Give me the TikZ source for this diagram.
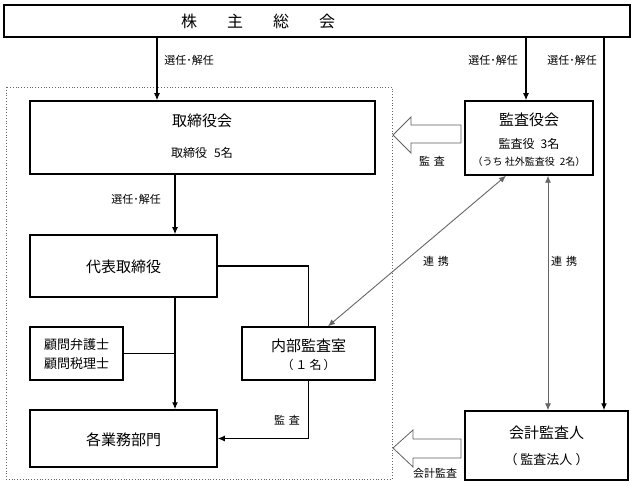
\documentclass[tikz,border=0pt]{standalone}
\usepackage{fontspec}
\newfontfamily\jp{Noto Sans CJK JP}
\usetikzlibrary{arrows.meta}
\begin{document}
\begin{tikzpicture}[x=1pt,y=-1pt,
  box/.style={draw,line width=1.5pt,inner sep=0pt,fill=white},
  big/.style={font=\jp\fontsize{15}{18}\selectfont,inner sep=0pt},
  mid/.style={font=\jp\fontsize{12}{14}\selectfont,inner sep=0pt},
  sml/.style={font=\jp\fontsize{11}{13}\selectfont,inner sep=0pt},
  tiny/.style={font=\jp\fontsize{10}{12}\selectfont,inner sep=0pt},
  arr/.style={line width=1.2pt,-{Latex[length=7pt,width=6pt]}},
  ln/.style={line width=1.2pt},
  link/.style={draw=gray!80!black,line width=0.9pt,{Latex[length=7pt,width=6pt]}-{Latex[length=7pt,width=6pt]}},
  hollow/.style={draw=gray!75!black,line width=0.8pt,fill=white}]
\useasboundingbox (0,0) rectangle (634,486);
\fill[white] (0,0) rectangle (634,486);

% dotted company boundary
\draw[dotted,gray!80!black,line width=0.8pt] (6,87) rectangle (392,479);

% shareholders meeting
\node[draw,line width=2.4pt,minimum width=626pt,minimum height=32pt,inner sep=0pt] (gm) at (317,21) {};
\node[font=\jp\fontsize{16}{18}\selectfont,inner sep=0pt] (gmt) at (258,21) {株\hspace{30pt}主\hspace{30pt}総\hspace{30pt}会};

% boxes
\node[box,minimum width=345pt,minimum height=73pt] (bod) at (202.5,137.5) {};
\node[big] (bodt) at (202,121) {取締役会};
\node[mid] (bods) at (202,153) {取締役\hspace{7pt}5名};

\node[box,minimum width=187pt,minimum height=62pt] (rep) at (123.5,266) {};
\node[big] (rept) at (123.5,267) {代表取締役};

\node[box,minimum width=93pt,minimum height=53pt] (adv) at (76.5,353.5) {};
\node[font=\jp\fontsize{13}{15}\selectfont,inner sep=0pt] (advt1) at (76.5,345) {顧問弁護士};
\node[font=\jp\fontsize{13}{15}\selectfont,inner sep=0pt] (advt2) at (76.5,364) {顧問税理士};

\node[box,minimum width=133pt,minimum height=53pt] (ia) at (308.5,353.5) {};
\node[big] (iat) at (308.5,346) {内部監査室};
\node[mid] (ias) at (308.5,365) {（\hspace{2pt}１\hspace{2pt}名\hspace{2pt}）};

\node[box,minimum width=187pt,minimum height=57pt] (dep) at (123.5,438.5) {};
\node[big] (dept) at (123.5,440) {各業務部門};

\node[box,minimum width=128pt,minimum height=74pt] (kansa) at (529,138) {};
\node[big] (kansat) at (529,120) {監査役会};
\node[mid] (kansas) at (529,144) {監査役\hspace{6pt}3名};
\node[tiny] (kansas2) at (529,162) {（うち 社外監査役\hspace{5pt}2名）};

\node[box,minimum width=163pt,minimum height=69pt] (ext) at (546.5,445.5) {};
\node[big] (extt) at (546.5,433) {会計監査人};
\node[font=\jp\fontsize{13}{15}\selectfont,inner sep=0pt] (exts) at (546.5,460) {（\hspace{3pt}監査法人\hspace{3pt}）};

% appointments from shareholders
\draw[arr] (gm.south -| 157,0) -- (bod.north -| 157,0);
\node[sml] (l1) at (189,60) {選任･解任};
\draw[arr] (gm.south -| 526,0) -- (kansa.north -| 526,0);
\node[sml] (l2) at (493,60) {選任･解任};
\draw[arr] (gm.south -| 604,0) -- (ext.north -| 604,0);
\node[sml] (l3) at (572,60) {選任･解任};

% board to representative
\draw[arr] (bod.south -| 175,0) -- (rep.north -| 175,0);
\node[sml] (l4) at (136,199) {選任･解任};

% representative to departments
\draw[arr] (rep.south -| 175,0) -- (dep.north -| 175,0);
\draw[ln] (adv.east) -- (adv.east -| 175,0);
\draw[ln] (rep.east) -| (ia.north);

% internal audit to departments
\draw[arr] (ia.south) |- (dep.east);
\node[sml] (l5) at (287,420) {監\hspace{4pt}査};

% cooperation links
\draw[link] (ia.north -| 328,0) -- (kansa.south -| 506,0);
\node[sml] (l6) at (436,261) {連\hspace{4pt}携};
\draw[link] (kansa.south -| 548,0) -- (ext.north -| 548,0);
\node[sml] (l7) at (564,261) {連\hspace{4pt}携};

% hollow audit arrows
\draw[hollow] (461,125) -- (411,125) -- (411,117) -- (393,135) -- (411,153) -- (411,143) -- (461,143) -- cycle;
\node[sml] (l8) at (432,161) {監\hspace{4pt}査};
\draw[hollow] (461,439) -- (413,439) -- (413,430) -- (393,448) -- (413,467) -- (413,458) -- (461,458) -- cycle;
\node[sml] (l9) at (435,473) {会計監査};
\end{tikzpicture}
\end{document}
